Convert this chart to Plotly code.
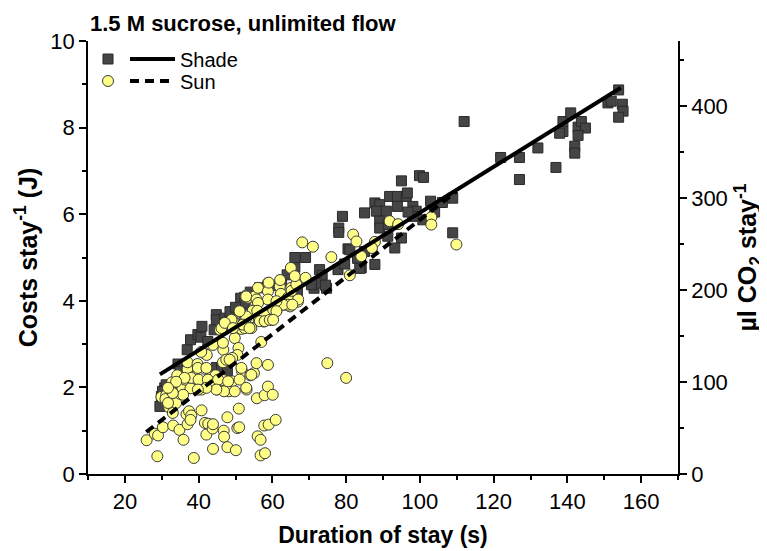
import plotly.graph_objects as go

# ---------------- data ----------------
shade_x = [29.9, 30.8, 31.2, 29.5, 30.2, 34.4, 35.1, 34.2, 36.9, 37.8, 39.8, 40.6, 40.9, 42.5,
           44.8, 44.8, 47.1, 44.2, 44.8, 46.2, 47.8, 52.5, 51.9, 51.4, 52.5, 48.5, 50.0, 54.0,
           56.5, 59.5, 66.8, 71.3, 74.7, 66.1, 69.0, 66.1, 72.8, 73.5, 71.9, 74.4, 70.6, 77.8,
           79.6, 80.5, 79.0, 78.0, 78.0, 84.1, 87.8, 83.7, 81.0, 85.0, 87.8, 89.1, 88.2, 90.9,
           91.8, 93.9, 96.3, 96.6, 95.0, 93.9, 98.1, 99.0, 89.1, 89.1, 91.4, 95.0, 93.2, 91.3,
           99.9, 101.0, 100.8, 98.1, 96.8, 102.9, 104.0, 106.1, 108.9, 108.9, 112.0, 121.9,
           127.0, 127.0, 132.0, 136.9, 138.8, 140.9, 138.8, 137.9, 142.0, 142.0, 142.9, 143.8,
           144.9, 142.9, 151.0, 151.9, 153.9, 154.9, 155.1, 153.9, 85.0, 83.1, 62.5, 64.0]
shade_y = [1.79, 1.99, 2.06, 1.56, 1.91, 2.54, 2.37, 1.98, 2.87, 3.10, 3.22, 3.16, 3.41, 3.06,
           3.68, 3.56, 3.60, 3.33, 2.46, 2.43, 2.38, 4.08, 3.91, 4.06, 3.95, 3.75, 3.85, 4.20,
           4.30, 4.35, 4.20, 4.29, 4.29, 5.00, 5.00, 4.77, 4.72, 4.59, 4.41, 4.36, 4.37, 4.72,
           4.85, 5.20, 5.95, 5.68, 5.58, 4.76, 4.84, 4.75, 5.18, 6.03, 6.26, 6.22, 6.07, 6.07,
           6.41, 6.41, 6.41, 6.49, 6.77, 6.18, 6.18, 6.07, 5.84, 5.68, 5.76, 5.45, 5.22, 5.49,
           6.89, 6.85, 5.87, 5.95, 6.05, 6.30, 6.05, 6.27, 6.37, 5.57, 8.14, 7.31,
           7.31, 6.80, 7.53, 7.08, 8.14, 8.34, 7.91, 7.87, 7.57, 7.41, 8.01, 8.14,
           7.99, 7.82, 8.57, 8.61, 8.87, 8.54, 8.38, 8.24, 5.14, 4.98, 4.45, 4.60]

sun_x = [25.9, 28.8, 28.1, 29.0, 30.3, 29.9, 31.2, 31.0, 32.0, 33.0, 32.8, 33.9, 35.0, 33.1,
         34.8, 35.9, 36.7, 37.4, 38.0, 38.7, 37.0, 37.8, 35.6, 37.0, 37.0, 36.3, 37.8, 38.8,
         39.8, 39.7, 40.8, 41.7, 40.8, 41.5, 42.2, 40.7, 41.7, 42.6, 42.1, 43.8, 43.9, 43.9,
         42.9, 43.9, 44.6, 45.0, 45.8, 46.9, 46.7, 46.6, 46.7, 47.5, 48.2, 49.1, 46.9, 46.8,
         46.9, 47.8, 47.8, 49.1, 49.8, 50.8, 50.1, 50.5, 50.9, 51.0, 51.8, 50.5, 49.1, 51.1,
         51.6, 52.5, 53.0, 54.0, 55.0, 52.8, 54.0, 55.4, 55.8, 56.3, 55.8, 56.0, 56.8, 57.0,
         57.9, 56.8, 58.0, 57.8, 58.8, 58.8, 59.0, 60.1, 60.9, 57.7, 59.8, 61.1, 63.1, 64.8,
         66.9, 74.9, 80.0, 34.2,
         39.8, 42.1, 38.0, 40.0, 42.5, 45.3, 48.0, 51.1, 46.6, 48.4, 49.3, 47.1, 51.1, 52.9,
         52.5, 54.3, 55.2, 53.4, 55.2, 52.9, 49.8, 44.8, 42.1, 39.8, 35.8, 31.7, 33.0, 51.6,
         54.3, 55.7, 36.2, 33.9, 31.7,
         52.9, 55.7, 56.1, 58.8, 58.8, 62.0, 62.3, 64.2, 65.1, 67.0, 64.2, 62.9, 58.8, 61.1,
         56.1, 54.7, 55.9, 57.9, 60.2, 61.1, 52.9, 51.1, 48.9, 46.2, 47.1, 49.3, 52.0, 53.8,
         56.6, 57.9, 59.3, 60.2, 59.0, 62.1, 65.2, 66.5, 65.4,
         65.0, 66.1, 69.0, 68.1, 71.0, 76.0, 81.9, 82.8, 84.1, 81.0, 87.8, 87.0, 91.8, 94.1,
         103.1, 103.1, 109.9]
sun_y = [0.78, 0.41, 0.93, 0.89, 1.08, 1.78, 1.82, 1.73, 1.54, 1.41, 2.12, 1.64, 1.85, 1.12,
         1.02, 0.79, 1.38, 1.45, 1.35, 0.37, 1.15, 1.25, 1.98, 2.41, 2.58, 2.18, 1.98, 2.25,
         2.18, 2.54, 1.47, 2.43, 1.95, 2.79, 2.75, 2.82, 1.18, 1.16, 0.91, 1.05, 1.15, 0.58,
         2.12, 2.98, 2.28, 1.95, 3.33, 3.43, 2.87, 2.58, 2.17, 2.64, 1.91, 2.14, 1.91, 1.00,
         0.86, 1.31, 0.62, 3.52, 3.14, 2.91, 0.55, 1.06, 1.51, 1.08, 2.37, 2.75, 2.68, 3.72,
         3.35, 3.60, 1.95, 2.28, 2.33, 4.12, 3.38, 3.98, 3.77, 3.55, 1.75, 0.87, 0.79, 3.05,
         1.82, 0.43, 0.48, 1.12, 2.52, 2.02, 1.14, 1.83, 1.25, 3.52, 3.56, 3.77, 3.91, 3.87,
         3.98, 2.56, 2.22, 2.28,
         2.45, 2.45, 2.22, 2.18, 2.18, 2.18, 2.14, 2.18, 3.03, 2.64, 3.53, 3.49, 3.76, 3.60,
         3.37, 3.37, 3.76, 4.07, 4.10, 1.99, 1.91, 1.95, 1.99, 1.95, 1.83, 1.64, 1.87, 2.45,
         2.29, 2.56, 2.22, 2.13, 1.99,
         4.10, 4.03, 4.30, 4.41, 4.22, 4.33, 4.16, 4.07, 4.30, 4.03, 3.91, 3.91, 4.03, 3.99,
         3.95, 3.77, 3.77, 3.68, 3.80, 3.76, 3.64, 3.76, 3.56, 3.37, 3.49, 3.37, 3.45, 3.37,
         3.53, 3.53, 3.56, 3.56, 4.42, 4.48, 4.23, 4.38, 3.91,
         4.76, 4.57, 4.53, 5.35, 5.25, 5.01, 5.53, 5.37, 5.03, 4.59, 5.36, 5.22, 5.84, 5.77,
         5.93, 5.76, 5.30]

# regression line end points
shade_fit_x = [29.5, 154.5]
shade_fit_y = [2.30, 8.92]
sun_fit_x = [25.8, 110.0]
sun_fit_y = [0.97, 6.53]

x_ticks = [20, 40, 60, 80, 100, 120, 140, 160]
y_ticks = [0, 2, 4, 6, 8, 10]
y2_ticks = [0, 100, 200, 300, 400]

FONT = "Arial, Liberation Sans, sans-serif"

fig = go.Figure()

fig.add_trace(go.Scatter(
    x=shade_x, y=shade_y, mode="markers", name=" ", legend="legend",
    marker=dict(symbol="square", size=10, color="#454545",
                line=dict(color="#2a2a2a", width=1)),
    hoverinfo="skip"))
fig.add_trace(go.Scatter(
    x=sun_x, y=sun_y, mode="markers", name=" ", legend="legend3",
    marker=dict(symbol="circle", size=11, color="#FFFF88",
                line=dict(color="#3a3a3a", width=1)),
    hoverinfo="skip"))
fig.add_trace(go.Scatter(
    x=shade_fit_x, y=shade_fit_y, mode="lines", name="Shade", legend="legend2",
    line=dict(color="black", width=4), hoverinfo="skip"))
fig.add_trace(go.Scatter(
    x=sun_fit_x, y=sun_fit_y, mode="lines", name="Sun", legend="legend4",
    line=dict(color="black", width=4, dash="9px,6px"), hoverinfo="skip"))
# trace to carry the right axis
fig.add_trace(go.Scatter(
    x=[None], y=[None], yaxis="y2", mode="markers", showlegend=False, hoverinfo="skip"))

axis_common = dict(showline=True, linecolor="black", linewidth=1.5, ticks="outside",
                   tickcolor="black", ticklen=7, tickwidth=1.5, showgrid=False,
                   zeroline=False, tickfont=dict(family=FONT, size=22, color="black"))


def leg(xpx, ypx, iw):
    return dict(x=(xpx - 80) / 590, y=(466 - ypx) / 433, xanchor="left", yanchor="middle",
                orientation="h", bgcolor="rgba(0,0,0,0)", itemwidth=iw,
                font=dict(family=FONT, size=20, color="black"))


fig.update_layout(
    width=767, height=551,
    margin=dict(l=80, r=97, t=33, b=85),
    paper_bgcolor="white", plot_bgcolor="white",
    font=dict(family=FONT, color="black"),
    title=dict(text="<b>1.5 M sucrose, unlimited flow</b>", x=82 / 767, xanchor="left",
               y=1 - 15 / 551, yanchor="middle", font=dict(family=FONT, size=22, color="black")),
    xaxis=dict(range=[10, 170], tickvals=x_ticks, **axis_common,
               minor=dict(dtick=10, tick0=0, ticks="outside", ticklen=4, tickcolor="black", tickwidth=1.5),
               title=dict(text="<b>Duration of stay (s)</b>", font=dict(family=FONT, size=23),
                          standoff=14)),
    yaxis=dict(range=[0, 10], tickvals=y_ticks, **axis_common,
               minor=dict(dtick=1, tick0=0, ticks="outside", ticklen=4, tickcolor="black", tickwidth=1.5),
               title=dict(text="<b>Costs stay<sup>-1</sup> (J)</b>", font=dict(family=FONT, size=25),
                          standoff=6)),
    yaxis2=dict(range=[0, 471], tickvals=y2_ticks, overlaying="y", side="right",
                anchor="x", **axis_common,
                minor=dict(dtick=50, tick0=0, ticks="outside", ticklen=4, tickcolor="black", tickwidth=1.5),
                title=dict(text="<b>µl CO<sub>2</sub> stay<sup>-1</sup></b>",
                           font=dict(family=FONT, size=25), standoff=12)),
    legend=leg(80, 51, 30),
    legend2=leg(117, 51, 45),
    legend3=leg(80, 73, 30),
    legend4=leg(117, 73, 45),
)

fig.write_html("out.html")
